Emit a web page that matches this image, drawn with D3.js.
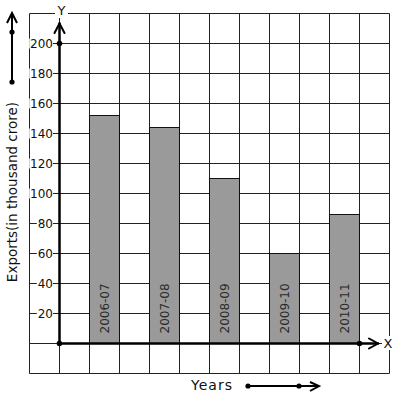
<!DOCTYPE html>
<html>
<head>
<meta charset="utf-8">
<script src="https://cdn.jsdelivr.net/npm/d3@7"></script>
<style>
  body { margin: 0; background: #fff; }
  svg text { font-family: "DejaVu Sans", sans-serif; }
</style>
</head>
<body>
<div id="chart"></div>
<script>
const years = ['2006-07', '2007-08', '2008-09', '2009-10', '2010-11'];
const exports = [152, 144, 110, 60, 86];
const yTicks = [20, 40, 60, 80, 100, 120, 140, 160, 180, 200];

const width = 397;
const height = 399;

const svg = d3.select('#chart')
    .append('svg')
    .attr('width', width)
    .attr('height', height);

// graph paper: 12 x 12 squares of 30px
const gx = d3.scaleLinear().domain([-1, 11]).range([29.5, 389.5]);
const y = d3.scaleLinear().domain([-20, 220]).range([373.5, 13.5]);
const x = d3.scaleBand()
    .domain(years)
    .range([gx(1), gx(10)])
    .paddingInner(0.5)
    .paddingOuter(0);

const grid = svg.append('g').attr('stroke', '#222').attr('stroke-width', 1);
grid.selectAll('.vl')
    .data(d3.range(-1, 12))
    .enter().append('line')
    .attr('x1', d => gx(d)).attr('x2', d => gx(d))
    .attr('y1', y(220)).attr('y2', y(-20));
grid.selectAll('.hl')
    .data(d3.range(-20, 221, 20))
    .enter().append('line')
    .attr('y1', d => y(d)).attr('y2', d => y(d))
    .attr('x1', gx(-1)).attr('x2', gx(11));

// bars
svg.selectAll('.bar')
    .data(years)
    .enter().append('rect')
    .attr('x', d => x(d))
    .attr('y', (d, i) => y(exports[i]))
    .attr('width', x.bandwidth())
    .attr('height', (d, i) => y(0) - y(exports[i]))
    .attr('fill', '#9a9a9a')
    .attr('stroke', '#111')
    .attr('stroke-width', 1);

svg.selectAll('.blabel')
    .data(years)
    .enter().append('text')
    .attr('transform', d => `translate(${x(d) + x.bandwidth() / 2 + 4},${y(0) - 10}) rotate(-90)`)
    .attr('font-size', 12)
    .attr('fill', '#2a2a2a')
    .text(d => d);

// tick labels with white backing over the grid
const tl = svg.selectAll('.tick')
    .data(yTicks)
    .enter().append('g')
    .attr('transform', d => `translate(53,${y(d)})`);
tl.append('rect')
    .attr('x', d => -String(d).length * 7.6 - 1)
    .attr('y', -5)
    .attr('width', d => String(d).length * 7.6 + 1)
    .attr('height', 10)
    .attr('fill', '#fff');
tl.append('text')
    .attr('text-anchor', 'end')
    .attr('dy', '0.36em')
    .attr('font-size', 12)
    .attr('fill', '#111')
    .text(d => d);

// axes
const ax = svg.append('g').attr('stroke', '#000').attr('fill', 'none')
    .attr('stroke-width', 2.5).attr('stroke-linecap', 'round');
ax.append('line').attr('x1', gx(0)).attr('x2', gx(0)).attr('y1', y(0)).attr('y2', 23.5);
ax.append('path').attr('d', `M${gx(0) - 5},33L${gx(0)},23.5L${gx(0) + 5},33`).attr('stroke-width', 2);
ax.append('line').attr('x1', gx(0)).attr('x2', 378).attr('y1', y(0)).attr('y2', y(0));
ax.append('path').attr('d', `M369,${y(0) - 5}L378,${y(0)}L369,${y(0) + 5}`).attr('stroke-width', 2);

const dots = [[gx(0), y(200)], [gx(0), y(0)], [gx(10), y(0)]];
svg.selectAll('.dot')
    .data(dots)
    .enter().append('circle')
    .attr('cx', d => d[0]).attr('cy', d => d[1])
    .attr('r', 2.8).attr('fill', '#000');

// axis letters
svg.append('rect').attr('x', 55).attr('y', 4).attr('width', 13).attr('height', 14).attr('fill', '#fff');
svg.append('text').attr('x', 61.5).attr('y', 15).attr('text-anchor', 'middle')
    .attr('font-size', 13).attr('fill', '#111').text('Y');
svg.append('rect').attr('x', 382).attr('y', 336).attr('width', 13).attr('height', 14).attr('fill', '#fff');
svg.append('text').attr('x', 388).attr('y', 348).attr('text-anchor', 'middle')
    .attr('font-size', 13).attr('fill', '#111').text('X');

// axis titles
svg.append('text')
    .attr('transform', 'translate(17,192) rotate(-90)')
    .attr('text-anchor', 'middle')
    .attr('font-size', 13.5)
    .attr('fill', '#111')
    .text('Exports(in thousand crore)');
svg.append('text')
    .attr('x', 191).attr('y', 390)
    .attr('font-size', 14)
    .attr('letter-spacing', 1)
    .attr('fill', '#111')
    .text('Years');

// direction arrows
const dir = svg.append('g').attr('stroke', '#000').attr('fill', 'none').attr('stroke-width', 2);
dir.append('line').attr('x1', 12).attr('x2', 12).attr('y1', 82).attr('y2', 13);
dir.append('path').attr('d', 'M7,23L12,13L17,23');
dir.append('line').attr('x1', 248).attr('x2', 319).attr('y1', 386).attr('y2', 386);
dir.append('path').attr('d', 'M310,382L319,386L310,391');
svg.selectAll('.ddot')
    .data([[12, 32], [12, 82], [248, 386], [299, 386]])
    .enter().append('circle')
    .attr('cx', d => d[0]).attr('cy', d => d[1])
    .attr('r', 2.6).attr('fill', '#000');
</script>
</body>
</html>
